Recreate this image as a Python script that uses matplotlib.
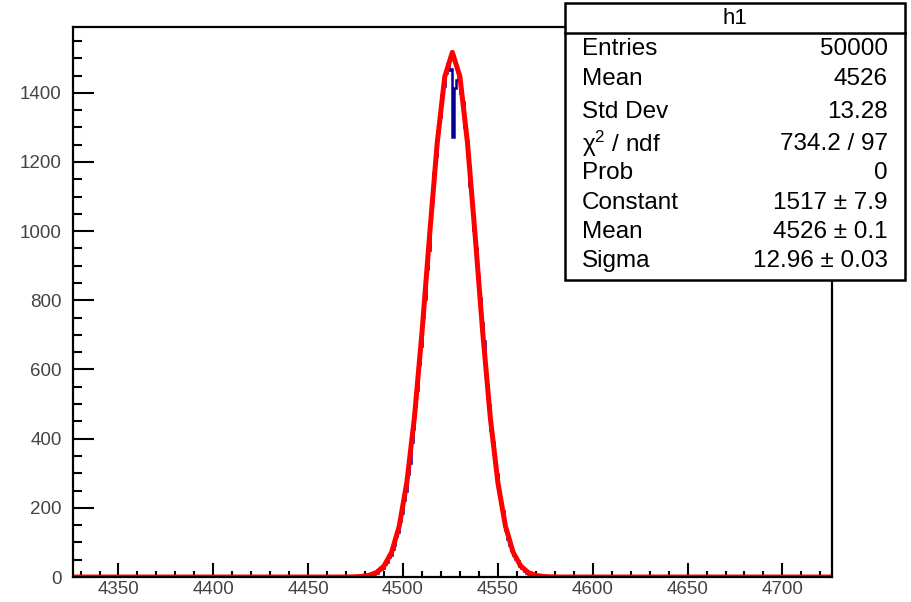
import numpy as np
import matplotlib.pyplot as plt
from matplotlib.ticker import MultipleLocator
from matplotlib.patches import Rectangle

plt.rcParams['font.family'] = ['Liberation Sans', 'DejaVu Sans']
plt.rcParams['mathtext.fontset'] = 'custom'
plt.rcParams['mathtext.rm'] = 'Liberation Sans'
plt.rcParams['mathtext.it'] = 'Liberation Sans'

# histogram h1: 400 bins of width 1 from 4326 to 4726
x_min = 4326
x_max = 4726
n_bins = 400

# filled bins (lower edge, entries)
bin_lo = list(range(4478, 4574))
bin_counts = [
    1, 1, 3, 2, 6, 5, 9, 12, 13, 19,            # 4478-4487
    24, 27, 38, 42, 57, 63, 81, 93, 118, 131,   # 4488-4497
    163, 185, 224, 249, 298, 331, 389, 428, 495, 541,   # 4498-4507
    617, 668, 751, 805, 890, 946, 1031, 1086, 1167, 1218,  # 4508-4517
    1290, 1331, 1394, 1420, 1458, 1482, 1465, 1470, 1272, 1414,  # 4518-4527
    1436, 1443, 1398, 1372, 1301, 1262, 1208, 1131, 1080, 1003,  # 4528-4537
    951, 869, 808, 735, 683, 604, 556, 497, 426, 391,   # 4538-4547
    333, 298, 250, 213, 191, 152, 137, 109, 93, 77,     # 4548-4557
    63, 52, 45, 33, 27, 24, 17, 12, 10, 9,              # 4558-4567
    5, 4, 3, 2, 2, 1,                                   # 4568-4573
]

# fit results shown in the stats box
fit_const = 1517
fit_mean = 4526
fit_sigma = 12.96
fit_npx = 100  # ROOT draws the fit function as a 100-segment polyline

stat_names = ["Entries", "Mean", "Std Dev", "χ$^{2}$ / ndf", "Prob",
              "Constant", "Mean", "Sigma"]
stat_values = ["50000", "4526", "13.28", "734.2 / 97", "0",
               "1517 ± 7.9", "4526 ± 0.1", "12.96 ± 0.03"]

edges = np.linspace(x_min, x_max, n_bins + 1)
counts = np.zeros(n_bins)
for lo, c in zip(bin_lo, bin_counts):
    counts[lo - x_min] = c

fig = plt.figure(figsize=(9.12, 6.02), dpi=100)
ax = fig.add_axes([0.080, 0.0415, 0.832, 0.9135])

ax.stairs(counts, edges, color='#000099', lw=1.8)

xf = np.linspace(x_min, x_max, fit_npx + 1)
yf = fit_const * np.exp(-0.5 * ((xf - fit_mean) / fit_sigma) ** 2)
ax.plot(xf, yf, color='#ff0000', lw=3.6, solid_joinstyle='round')

ax.set_xlim(x_min, x_max)
ax.set_ylim(0, 1590)

ax.xaxis.set_major_locator(MultipleLocator(50))
ax.xaxis.set_minor_locator(MultipleLocator(10))
ax.yaxis.set_major_locator(MultipleLocator(200))
ax.yaxis.set_minor_locator(MultipleLocator(50))

ax.tick_params(axis='x', which='major', direction='in', length=10, width=1.5,
               labelsize=13.5, pad=3, labelcolor='#444444')
ax.tick_params(axis='x', which='minor', direction='in', length=4.5, width=1.5)
ax.tick_params(axis='y', which='major', direction='in', length=15, width=1.5,
               labelsize=13.5, pad=8, labelcolor='#444444')
ax.tick_params(axis='y', which='minor', direction='in', length=6.5, width=1.5)
for s in ax.spines.values():
    s.set_linewidth(1.6)

# stats box
bx0, bx1 = 565 / 912, 905 / 912
by_top, by_bot, by_hdr = 1 - 3 / 602, 1 - 280 / 602, 1 - 33 / 602
fig.patches.append(Rectangle((bx0, by_bot), bx1 - bx0, by_top - by_bot,
                             transform=fig.transFigure, facecolor='white',
                             edgecolor='black', lw=1.8, zorder=5))
fig.lines.append(plt.Line2D([bx0, bx1], [by_hdr, by_hdr],
                            transform=fig.transFigure, color='black', lw=1.8,
                            zorder=6))
fig.text((bx0 + bx1) / 2, (by_top + by_hdr) / 2, "h1", ha='center',
         va='center', fontsize=16, zorder=7)

row_y = [49, 79, 112, 144, 173, 203, 232, 261]
for name, val, py in zip(stat_names, stat_values, row_y):
    fig.text(582 / 912, 1 - py / 602, name, ha='left', va='center',
             fontsize=17.5, zorder=7)
    fig.text(888 / 912, 1 - py / 602, val, ha='right', va='center',
             fontsize=17.5, zorder=7)

fig.savefig("out.png", dpi=100)
